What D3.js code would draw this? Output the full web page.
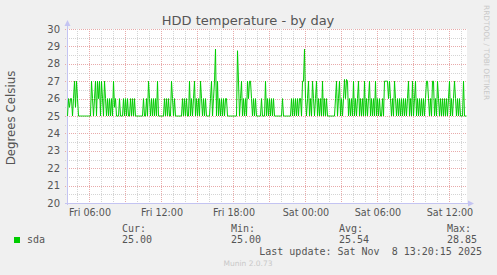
<!DOCTYPE html>
<html>
<head>
<meta charset="utf-8">
<script src="https://cdn.jsdelivr.net/npm/d3@7"></script>
<style>
  html, body { margin: 0; padding: 0; background: #f0f0f0; }
  svg { display: block; }
  text { font-family: "DejaVu Sans", sans-serif; }
  .mono { font-family: "DejaVu Sans Mono", monospace; }
</style>
</head>
<body>
<div id="chart"></div>
<script>
// sda temperature, one value per 5 minute step
let sda = [
  25, 26, 25.5, 26, 26, 25, 26, 27, 25.5, 27, 26, 25, 25, 25, 25, 25, 25, 25, 25, 25,
  25, 25, 25, 25, 27, 26, 25, 26, 27, 25, 27, 26, 27, 25, 27, 26, 25, 27, 26, 25,
  26, 25, 26, 25, 26, 25, 27, 25.5, 26, 25, 25, 25, 26, 25, 25, 25, 26, 25, 26, 25,
  26, 25, 25, 26, 25, 26, 25, 26, 25, 25, 25, 25, 25, 25, 25, 25, 26, 25, 25, 26,
  25, 27, 26, 25, 26, 25, 26, 25, 26, 25, 27, 25, 25, 25, 25, 25, 25, 26, 25, 26,
  25, 26, 25, 25, 27, 26, 25, 26, 25, 25, 25, 25, 25, 25, 25, 26, 25, 26, 25, 26,
  25, 25, 27, 25, 26, 25, 26, 27, 25, 26, 25, 26, 25, 27, 26, 25, 26, 25, 26, 25,
  25, 25, 25, 26, 27, 25, 26, 27, 28.85, 25, 27, 25, 26, 25, 26, 25, 26, 25, 26, 26,
  25, 25, 25, 25, 25, 25, 25, 25, 25, 25, 28.75, 27, 25, 26, 27, 25, 26, 25, 26, 25,
  27, 26, 27, 27, 26, 25, 26, 25, 26, 25, 25, 25, 25, 25, 26, 25, 25, 25, 27, 25,
  26, 25, 26, 25, 26, 25, 26, 25, 25, 25, 25, 25, 25, 25, 25, 26, 25, 25, 25, 25,
  25, 25, 25, 25, 26, 25, 26, 25, 26, 25, 26, 25, 26, 26, 25, 27, 27, 28.85, 26, 25,
  26, 27, 25, 26, 25, 27, 26, 25, 26, 27, 25, 26, 25, 26, 25, 27, 25, 26, 25, 26,
  25, 25, 25, 25, 25, 25, 25, 25, 26, 27, 25, 26, 27, 25, 26, 25, 26, 27.1, 26, 27.1,
  27, 25, 26, 25, 26, 25, 27, 25, 26, 25, 26, 27, 25, 26, 25, 26, 25, 27, 25, 26,
  25, 26, 27, 25, 26, 25, 26, 25, 27, 25, 26, 25, 26, 25, 25, 26, 25, 27, 27, 27,
  27, 26, 27, 26, 25, 26, 25, 27, 26, 25, 26, 25, 26, 25, 26, 25, 26, 25, 26, 25,
  26, 27, 25, 26, 25, 27, 25, 26, 27, 25, 26, 25, 26, 25, 26, 25, 26, 25, 26, 27,
  27, 26, 25, 26, 25, 27, 27, 25, 26, 25, 27, 26, 25, 26, 25, 26, 25, 26, 25, 26,
  25, 26, 27, 25, 26, 25, 26, 27, 26, 25, 26, 25, 26, 25, 25, 25, 27, 25, 25, 25
];
let yTicks = [20, 21, 22, 23, 24, 25, 26, 27, 28, 29, 30];
let statNames = ["Cur:", "Min:", "Avg:", "Max:"];
let statValues = ["25.00", "25.00", "25.54", "28.85"];

let width = 497, height = 275;
let plot = {left: 67, right: 467, top: 29, bottom: 203};
let start = new Date(2025, 10, 7, 4, 10);
let end = new Date(2025, 10, 8, 13, 30);
let step = 5 * 60 * 1000;

const svg = d3.select("#chart").append("svg")
    .attr("width", width)
    .attr("height", height);

svg.append("rect").attr("width", width).attr("height", height).attr("fill", "#f0f0f0");

let x = d3.scaleTime().domain([start, end]).range([plot.left, plot.right]);
let y = d3.scaleLinear().domain([20, 30]).range([plot.bottom, plot.top]);

svg.append("rect")
    .attr("x", plot.left).attr("y", plot.top)
    .attr("width", plot.right - plot.left).attr("height", plot.bottom - plot.top)
    .attr("fill", "#ffffff");

// grid
let minorColor = "#d4d4d4", majorColor = "#e8aaaa";
let grid = svg.append("g").attr("shape-rendering", "crispEdges");
let halfTicks = d3.range(20.5, 30, 1);
grid.selectAll(".hmin").data(halfTicks).join("line")
    .attr("x1", plot.left - 2).attr("x2", plot.right)
    .attr("y1", d => Math.round(y(d)) + 0.5).attr("y2", d => Math.round(y(d)) + 0.5)
    .attr("stroke", minorColor).attr("stroke-dasharray", "1,1");
grid.selectAll(".hmaj").data(yTicks.slice(1)).join("line")
    .attr("x1", plot.left - 2).attr("x2", plot.right)
    .attr("y1", d => Math.round(y(d)) + 0.5).attr("y2", d => Math.round(y(d)) + 0.5)
    .attr("stroke", majorColor).attr("stroke-dasharray", "1,1");

let hours = d3.timeHour.range(start, end);
grid.selectAll(".vline").data(hours).join("line")
    .attr("x1", d => Math.round(x(d)) + 0.5).attr("x2", d => Math.round(x(d)) + 0.5)
    .attr("y1", plot.top).attr("y2", plot.bottom + 2)
    .attr("stroke", d => d.getHours() % 3 == 0 ? majorColor : minorColor)
    .attr("stroke-dasharray", "1,1");

// axes
let axisColor = "#c4c4f2";
svg.append("line")
    .attr("x1", plot.left + 0.5).attr("x2", plot.left + 0.5)
    .attr("y1", plot.bottom + 2).attr("y2", plot.top - 4)
    .attr("stroke", axisColor);
svg.append("line")
    .attr("x1", plot.left - 2).attr("x2", plot.right + 2)
    .attr("y1", plot.bottom + 0.5).attr("y2", plot.bottom + 0.5)
    .attr("stroke", axisColor);
svg.append("path")
    .attr("d", `M${plot.left - 2.5},${plot.top - 3} L${plot.left + 0.5},${plot.top - 9} L${plot.left + 3.5},${plot.top - 3} Z`)
    .attr("fill", axisColor);
svg.append("path")
    .attr("d", `M${plot.right + 1},${plot.bottom - 2.5} L${plot.right + 7},${plot.bottom + 0.5} L${plot.right + 1},${plot.bottom + 3.5} Z`)
    .attr("fill", axisColor);

// y labels
svg.append("g").selectAll("text").data(yTicks).join("text")
    .attr("x", plot.left - 7)
    .attr("y", d => y(d) + 3.5)
    .attr("text-anchor", "end")
    .attr("font-size", 10)
    .attr("fill", "#555")
    .text(d => d);

// x labels
let labelTimes = d3.timeHour.every(6).range(start, end);
let fmt = d3.timeFormat("%a %H:%M");
svg.append("g").selectAll("text").data(labelTimes).join("text")
    .attr("x", d => x(d) + 1)
    .attr("y", plot.bottom + 13)
    .attr("text-anchor", "middle")
    .attr("font-size", 9.6)
    .attr("fill", "#555")
    .text(d => fmt(d));

// series
let points = sda.map((v, i) => ({t: new Date(start.getTime() + i * step), v: v}));
let line = d3.line().x(d => x(d.t) + 0.5).y(d => y(d.v));
svg.append("path")
    .datum(points)
    .attr("d", line)
    .attr("fill", "none")
    .attr("stroke", "#00cc00")
    .attr("stroke-width", 1);

// title and labels
svg.append("text")
    .attr("x", 248).attr("y", 25)
    .attr("text-anchor", "middle")
    .attr("font-size", 13)
    .attr("fill", "#555")
    .text("HDD temperature - by day");

svg.append("text")
    .attr("transform", `translate(15,${(plot.top + plot.bottom) / 2 + 2}) rotate(-90)`)
    .attr("text-anchor", "middle")
    .attr("font-size", 11.8)
    .attr("fill", "#555")
    .text("Degrees Celsius");

svg.append("text")
    .attr("transform", "translate(484,5) rotate(90)")
    .attr("font-size", 7.4)
    .attr("fill", "#c8c8c8")
    .text("RRDTOOL / TOBI OETIKER");

// legend
svg.append("rect").attr("x", 14).attr("y", 237).attr("width", 6).attr("height", 6).attr("fill", "#00cc00");
svg.append("text").attr("class", "mono").attr("x", 27).attr("y", 243)
    .attr("font-size", 10).attr("fill", "#555").text("sda");

let statX = [122, 231, 339, 447];
svg.append("g").selectAll("text").data(statNames).join("text")
    .attr("class", "mono")
    .attr("x", (d, i) => statX[i]).attr("y", 232)
    .attr("font-size", 10).attr("fill", "#555")
    .text(d => d);
svg.append("g").selectAll("text").data(statValues).join("text")
    .attr("class", "mono")
    .attr("x", (d, i) => statX[i]).attr("y", 243)
    .attr("font-size", 10).attr("fill", "#555")
    .text(d => d);

svg.append("text").attr("class", "mono")
    .attr("x", 482).attr("y", 255)
    .attr("text-anchor", "end")
    .attr("font-size", 10).attr("fill", "#555")
    .attr("xml:space", "preserve")
    .style("white-space", "pre")
    .text("Last update: Sat Nov  8 13:20:15 2025");

svg.append("text")
    .attr("x", 248).attr("y", 266)
    .attr("text-anchor", "middle")
    .attr("font-size", 7.5)
    .attr("fill", "#c8c8c8")
    .text("Munin 2.0.73");
</script>
</body>
</html>
